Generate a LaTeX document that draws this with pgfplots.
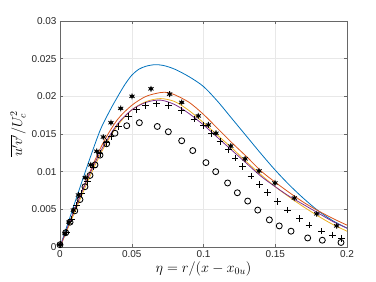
\documentclass[border=0pt]{standalone}
\usepackage{fontspec}
\setmainfont{Liberation Sans}
\usepackage{pgfplots}
\pgfplotsset{compat=1.18}
\definecolor{mblue}{rgb}{0,0.447,0.741}
\definecolor{morange}{rgb}{0.85,0.325,0.098}
\definecolor{myellow}{rgb}{0.929,0.694,0.125}
\definecolor{mpurple}{rgb}{0.494,0.184,0.556}
\definecolor{axgray}{rgb}{0.15,0.15,0.15}
\begin{document}
\begin{tikzpicture}[x=1bp,y=1bp]
\useasboundingbox (0,0) rectangle (376,282);
\begin{axis}[
  at={(60bp,35bp)}, anchor=south west,
  scale only axis, width=287bp, height=226bp,
  xmin=0, xmax=0.2, ymin=0, ymax=0.03,
  xtick={0,0.05,0.1,0.15,0.2},
  xticklabels={0,0.05,0.1,0.15,0.2},
  ytick={0,0.005,0.01,0.015,0.02,0.025,0.03},
  yticklabels={0,0.005,0.01,0.015,0.02,0.025,0.03},
  scaled ticks=false,
  tick align=inside,
  major tick length=3bp,
  grid=major,
  grid style={gray!18, line width=0.5pt},
  axis line style={axgray!70, line width=0.5pt},
  tick style={axgray!70, line width=0.5pt},
  ticklabel style={font=\fontsize{10}{12}\selectfont, text=axgray},
  /pgf/number format/assume math mode=true,
  xlabel={$\eta = r/(x-x_{0u})$},
  ylabel={$\overline{u'v'}/U_c^2$},
  label style={font=\fontsize{14.5}{16}\selectfont},
  xlabel style={yshift=3bp},
  ylabel style={yshift=-1bp},
]
\addplot[mblue, line width=0.8pt, smooth] coordinates {
(0,0) (0.01,0.0057) (0.02,0.0113) (0.028,0.0155) (0.035,0.0182) (0.04,0.0199)
(0.045,0.0215) (0.05,0.0228) (0.055,0.0236) (0.06,0.0240) (0.066,0.0242)
(0.072,0.0241) (0.08,0.0236) (0.09,0.0226) (0.1,0.0213) (0.11,0.0193)
(0.12,0.0170) (0.13,0.0147) (0.14,0.0124) (0.15,0.0102) (0.16,0.0082)
(0.17,0.0064) (0.18,0.0048) (0.19,0.0035) (0.2,0.0025)};
\addplot[morange, line width=0.8pt, smooth] coordinates {
(0,0) (0.01,0.0048) (0.02,0.0096) (0.03,0.0138) (0.04,0.0169) (0.05,0.0188)
(0.06,0.0200) (0.07,0.0205) (0.075,0.0205) (0.08,0.0202) (0.09,0.0192)
(0.1,0.0176) (0.11,0.0157) (0.12,0.0138) (0.13,0.0120) (0.14,0.0101)
(0.15,0.0086) (0.16,0.0072) (0.17,0.0059) (0.18,0.0048) (0.19,0.0038) (0.2,0.0029)};
\addplot[myellow, line width=0.8pt, smooth] coordinates {
(0,0) (0.01,0.0045) (0.02,0.0090) (0.03,0.0130) (0.04,0.0161) (0.05,0.0182)
(0.06,0.0193) (0.07,0.0197) (0.08,0.0193) (0.09,0.0181) (0.1,0.0165)
(0.11,0.0148) (0.12,0.0131) (0.13,0.0113) (0.14,0.0096) (0.15,0.0080)
(0.16,0.0066) (0.17,0.0053) (0.18,0.0041) (0.19,0.0030) (0.2,0.0021)};
\addplot[mpurple, line width=0.8pt, smooth] coordinates {
(0,0) (0.01,0.0049) (0.02,0.0094) (0.03,0.0133) (0.04,0.0163) (0.05,0.0182)
(0.06,0.0192) (0.07,0.0195) (0.08,0.0189) (0.09,0.0177) (0.1,0.0162)
(0.11,0.0145) (0.12,0.0128) (0.13,0.0111) (0.14,0.0094) (0.15,0.0080)
(0.16,0.0067) (0.17,0.0056) (0.18,0.0045) (0.19,0.0034) (0.2,0.0025)};
\addplot[only marks, mark=*, mark size=1.8bp, black] coordinates {
(0,0.0003) (0.0035,0.0018) (0.0063,0.0033) (0.0093,0.0049) (0.0128,0.0069)
(0.0176,0.0092) (0.0214,0.0109) (0.0256,0.0127) (0.0302,0.0146) (0.0355,0.0165)
(0.0423,0.0184) (0.0502,0.0200) (0.0634,0.0210) (0.0764,0.0203) (0.0848,0.0192)
(0.0964,0.0174) (0.1034,0.0162) (0.1087,0.0151) (0.119,0.0134) (0.129,0.0117)
(0.1387,0.0101) (0.1498,0.0085) (0.1633,0.0065) (0.1789,0.0044) (0.1928,0.0028)};
\addplot[only marks, mark=asterisk, mark size=3bp, black, mark options={line width=0.8pt}] coordinates {
(0,0.0003) (0.0035,0.0018) (0.0063,0.0033) (0.0093,0.0049) (0.0128,0.0069)
(0.0176,0.0092) (0.0214,0.0109) (0.0256,0.0127) (0.0302,0.0146) (0.0355,0.0165)
(0.0423,0.0184) (0.0502,0.0200) (0.0634,0.0210) (0.0764,0.0203) (0.0848,0.0192)
(0.0964,0.0174) (0.1034,0.0162) (0.1087,0.0151) (0.119,0.0134) (0.129,0.0117)
(0.1387,0.0101) (0.1498,0.0085) (0.1633,0.0065) (0.1789,0.0044) (0.1928,0.0028)};
\addplot[only marks, mark=+, mark size=3.3bp, black, mark options={line width=0.85pt}] coordinates {
(0.0,0.0003) (0.0046,0.0020) (0.0081,0.0037) (0.0115,0.0055) (0.015,0.0071)
(0.019,0.0087) (0.0235,0.0106) (0.028,0.0124) (0.0325,0.0139) (0.0355,0.0147)
(0.0406,0.0160) (0.0476,0.0173) (0.0534,0.0182) (0.0597,0.0188) (0.0674,0.0190)
(0.0755,0.0188) (0.0848,0.0181) (0.0934,0.0170) (0.0999,0.0161) (0.1057,0.0151)
(0.1115,0.0140) (0.1173,0.0129) (0.122,0.0118) (0.1273,0.0107) (0.1331,0.0094)
(0.1389,0.0083) (0.1447,0.0072) (0.1514,0.0060) (0.1584,0.0049) (0.1668,0.0038)
(0.1735,0.0029) (0.1824,0.0021) (0.1898,0.0016) (0.1963,0.0011)};
\addplot[only marks, mark=o, mark size=3bp, black, mark options={line width=0.85pt}] coordinates {
(0,0.0003) (0.004,0.0019) (0.007,0.0033) (0.0103,0.0048) (0.0139,0.0063)
(0.0174,0.0080) (0.0209,0.0095) (0.0244,0.0109) (0.0279,0.0122) (0.0325,0.0137)
(0.0383,0.0151) (0.0465,0.0161) (0.0553,0.0165) (0.0678,0.0160) (0.0755,0.0153)
(0.0848,0.0141) (0.0925,0.0128) (0.1017,0.0112) (0.1085,0.0100) (0.1168,0.0085)
(0.1236,0.0072) (0.1308,0.0061) (0.1378,0.0049) (0.1459,0.0036) (0.1528,0.0028)
(0.161,0.0021) (0.1726,0.0012) (0.1828,0.0009) (0.1958,0.0006)};
\end{axis}
\end{tikzpicture}
\end{document}
